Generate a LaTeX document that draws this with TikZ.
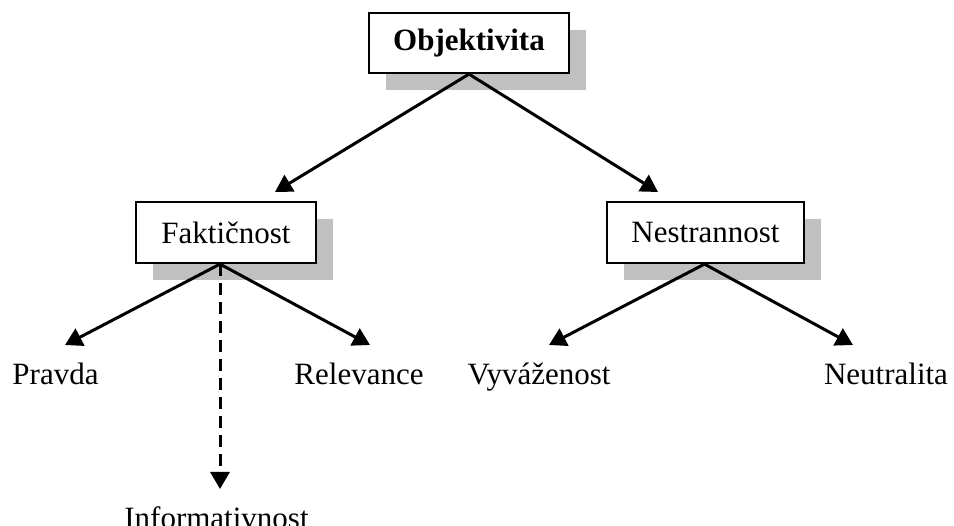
\documentclass[tikz,border=0pt]{standalone}
\usepackage{fontspec}
\setmainfont{Liberation Serif}
\usetikzlibrary{arrows.meta,shadows}
\definecolor{boxshadow}{RGB}{192,192,192}

\begin{document}
\begin{tikzpicture}[x=1pt,y=-1pt,
    font=\fontsize{31}{37}\selectfont,
    box/.style={draw, line width=2.2pt, fill=white, minimum height=61pt, inner sep=0pt,
      drop shadow={shadow xshift=17pt, shadow yshift=-17pt, fill=boxshadow, opacity=1}},
    link/.style={line width=3pt, -{Triangle[length=17pt,width=19pt]}},
    leaf/.style={anchor=base, inner sep=0pt}]
  \useasboundingbox (0,0) rectangle (954,526);

  % boxes
  \node[box, minimum width=200pt, minimum height=60pt, font=\fontsize{31}{37}\selectfont\bfseries] (obj) at (469,43) {Objektivita};
  \node[box, minimum width=180pt] (fakt) at (226,232.5) {Faktičnost};
  \node[box, minimum width=197pt] (nestr) at (705.5,232.5) {Nestrannost};

  % leaves
  \node[leaf] (pravda) at (55.5,385) {Pravda};
  \node[leaf] (relev) at (359,385) {Relevance};
  \node[leaf] (vyvaz) at (539,385) {Vyváženost};
  \node[leaf] (neutr) at (886,385) {Neutralita};
  \node[leaf] (inform) at (216.5,529) {Informativnost};

  % arrow tips
  \coordinate (toFakt) at (275,192);
  \coordinate (toNestr) at (658,192);
  \coordinate (toPravda) at (65,345);
  \coordinate (toRelev) at (370,345);
  \coordinate (toVyvaz) at (549,345);
  \coordinate (toNeutr) at (853,345);
  \coordinate (toInform) at (220,489);

  \draw[link] (obj.south) -- (toFakt);
  \draw[link] (obj.south) -- (toNestr);
  \draw[link] ([xshift=-6pt]fakt.south) -- (toPravda);
  \draw[link] ([xshift=-6pt]fakt.south) -- (toRelev);
  \draw[link, dash pattern=on 12pt off 7pt] ([xshift=-6pt]fakt.south) -- (toInform);
  \draw[link] ([xshift=-1pt]nestr.south) -- (toVyvaz);
  \draw[link] ([xshift=-1pt]nestr.south) -- (toNeutr);
\end{tikzpicture}
\end{document}
